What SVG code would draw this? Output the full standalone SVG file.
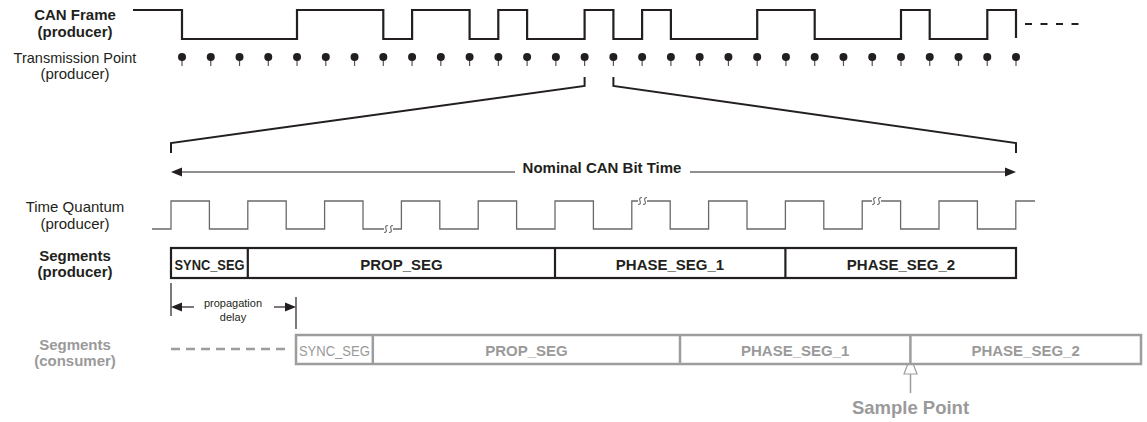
<svg xmlns="http://www.w3.org/2000/svg" xmlns:xlink="http://www.w3.org/1999/xlink" width="1147" height="422" viewBox="0 0 1147 422">
<style>
text{font-family:"Liberation Sans",Arial,sans-serif;text-anchor:middle;}
.b{font-weight:bold;font-size:15px;fill:#231f20;}
.r{font-size:15px;fill:#231f20;}
.gb{font-weight:bold;font-size:15px;fill:#9a9a9a;}
.gr{font-size:15px;fill:#9a9a9a;}
.wave{fill:none;stroke:#231f20;stroke-width:2.2;}
.tq{fill:none;stroke:#6a6a6a;stroke-width:1.3;}
.thin{fill:none;stroke:#231f20;stroke-width:1.2;}
.dark{fill:none;stroke:#231f20;stroke-width:2;}
.gbox{fill:#fff;stroke:#9d9d9d;stroke-width:2.5;}
.pbox{fill:#fff;stroke:#231f20;stroke-width:2.2;}
.head{fill:#231f20;}
</style>
<defs>
<g id="tp"><line x1="0" y1="0" x2="0" y2="9" stroke="#555" stroke-width="1.2"/><circle cx="0" cy="0" r="4" fill="#231f20"/></g>
<path id="sq" d="M0,7 Q3.4,7 2,3.5 Q0.6,0 4,0" fill="none" stroke="#6a6a6a" stroke-width="1.1"/>
</defs>

<g id="labels">
<text class="b" x="75" y="20">CAN Frame</text>
<text class="b" x="75" y="37">(producer)</text>
<text class="r" x="75" y="63" style="font-size:14.5px">Transmission Point</text>
<text class="r" x="75" y="79">(producer)</text>
<text class="r" x="75" y="212">Time Quantum</text>
<text class="r" x="75" y="229">(producer)</text>
<text class="b" x="75" y="261">Segments</text>
<text class="b" x="75" y="277">(producer)</text>
<text class="gb" x="75" y="350">Segments</text>
<text class="gb" x="75" y="366">(consumer)</text>
</g>

<g id="can-frame">
<path class="wave" d="M133,10 H182 V39 H297 V10 H383.3 V39 H412.1 V10 H469.6 V39 H498.3 V10 H527.1 V39 H584.6 V10 H613.4 V39 H642.1 V10 H670.9 V39 H757.2 V10 H814.7 V39 H901 V10 H929.7 V39 H987.3 V10 H1016 V38"/>
<line x1="1025" y1="24" x2="1079" y2="24" stroke="#231f20" stroke-width="2" stroke-dasharray="7,8.5"/>
</g>

<g id="transmission-points">
<use xlink:href="#tp" x="182" y="57"/><use xlink:href="#tp" x="210.76" y="57"/><use xlink:href="#tp" x="239.52" y="57"/><use xlink:href="#tp" x="268.28" y="57"/><use xlink:href="#tp" x="297.04" y="57"/>
<use xlink:href="#tp" x="325.8" y="57"/><use xlink:href="#tp" x="354.55" y="57"/><use xlink:href="#tp" x="383.31" y="57"/><use xlink:href="#tp" x="412.07" y="57"/><use xlink:href="#tp" x="440.83" y="57"/>
<use xlink:href="#tp" x="469.59" y="57"/><use xlink:href="#tp" x="498.35" y="57"/><use xlink:href="#tp" x="527.11" y="57"/><use xlink:href="#tp" x="555.87" y="57"/><use xlink:href="#tp" x="584.63" y="57"/>
<use xlink:href="#tp" x="613.39" y="57"/><use xlink:href="#tp" x="642.14" y="57"/><use xlink:href="#tp" x="670.9" y="57"/><use xlink:href="#tp" x="699.66" y="57"/><use xlink:href="#tp" x="728.42" y="57"/>
<use xlink:href="#tp" x="757.18" y="57"/><use xlink:href="#tp" x="785.94" y="57"/><use xlink:href="#tp" x="814.7" y="57"/><use xlink:href="#tp" x="843.46" y="57"/><use xlink:href="#tp" x="872.22" y="57"/>
<use xlink:href="#tp" x="900.97" y="57"/><use xlink:href="#tp" x="929.73" y="57"/><use xlink:href="#tp" x="958.49" y="57"/><use xlink:href="#tp" x="987.25" y="57"/><use xlink:href="#tp" x="1016" y="57"/>
</g>

<g id="connectors">
<path class="dark" d="M584.6,77 V86 L171,143 V153"/>
<path class="dark" d="M613.4,77 V86 L1016,143 V153"/>
<line class="thin" x1="182" y1="172" x2="515" y2="172"/>
<line class="thin" x1="690" y1="172" x2="1005" y2="172"/>
<polygon class="head" points="171,172 182,167.5 182,176.5"/>
<polygon class="head" points="1016,172 1005,167.5 1005,176.5"/>
<line class="thin" x1="171" y1="283" x2="171" y2="316"/>
<line class="thin" x1="296" y1="297" x2="296" y2="329"/>
<line class="thin" x1="182" y1="307" x2="194" y2="307"/>
<line class="thin" x1="274" y1="307" x2="285" y2="307"/>
<polygon class="head" points="171,307 182,302.5 182,311.5"/>
<polygon class="head" points="296,307 285,302.5 285,311.5"/>
<line x1="910.5" y1="374" x2="910.5" y2="393" stroke="#9d9d9d" stroke-width="1.5"/>
<polygon points="910.5,357 904,374 917,374" fill="#fff" stroke="#9d9d9d" stroke-width="1.2"/>
</g>

<g id="nominal-label">
<text class="b" x="602" y="173">Nominal CAN Bit Time</text>
</g>

<g id="time-quantum">
<path class="tq" d="M152,229 H171 V201 H209.4 V229 H247.8 V201 H286.2 V229 H324.6 V201 H363 V229 H384"/>
<use xlink:href="#sq" x="384" y="225.5"/><use xlink:href="#sq" x="389" y="225.5"/>
<path class="tq" d="M393,229 H401.4 V201 H439.8 V229 H478.2 V201 H516.6 V229 H555 V201 H593.4 V229 H631.8 V201 H638"/>
<use xlink:href="#sq" x="638" y="197.5"/><use xlink:href="#sq" x="643" y="197.5"/>
<path class="tq" d="M647,201 H670.2 V229 H708.6 V201 H747 V229 H785.4 V201 H823.8 V229 H862.2 V201 H872"/>
<use xlink:href="#sq" x="872" y="197.5"/><use xlink:href="#sq" x="877" y="197.5"/>
<path class="tq" d="M881,201 H900.6 V229 H939 V201 H977.4 V229 H1015.8 V201 H1035"/>
</g>

<g id="segments-producer">
<rect class="pbox" x="171" y="248" width="845" height="30"/>
<line class="dark" x1="247.8" y1="248" x2="247.8" y2="278" style="stroke-width:2.2"/>
<line class="dark" x1="555" y1="248" x2="555" y2="278" style="stroke-width:2.2"/>
<line class="dark" x1="785.4" y1="248" x2="785.4" y2="278" style="stroke-width:2.2"/>
<text class="b" x="209.5" y="270" textLength="70" lengthAdjust="spacingAndGlyphs">SYNC_SEG</text>
<text class="b" x="401.5" y="270">PROP_SEG</text>
<text class="b" x="670" y="270">PHASE_SEG_1</text>
<text class="b" x="901" y="270">PHASE_SEG_2</text>
</g>

<g id="propagation-delay">
<text class="r" x="233" y="307" style="font-size:11px">propagation</text>
<text class="r" x="233" y="321" style="font-size:11px">delay</text>
</g>

<g id="segments-consumer">
<line x1="171" y1="349" x2="286" y2="349" stroke="#9d9d9d" stroke-width="2.6" stroke-dasharray="9,6"/>
<rect class="gbox" x="296" y="335" width="845" height="29"/>
<line x1="372.8" y1="335" x2="372.8" y2="364" stroke="#9d9d9d" stroke-width="2.5"/>
<line x1="680" y1="335" x2="680" y2="364" stroke="#9d9d9d" stroke-width="2.5"/>
<line x1="910.4" y1="335" x2="910.4" y2="364" stroke="#9d9d9d" stroke-width="2.5"/>
<text class="gr" x="334.4" y="356" textLength="71" lengthAdjust="spacingAndGlyphs">SYNC_SEG</text>
<text class="gb" x="526.4" y="356">PROP_SEG</text>
<text class="gb" x="795.2" y="356">PHASE_SEG_1</text>
<text class="gb" x="1025.6" y="356">PHASE_SEG_2</text>
</g>

<g id="sample-point">
<text class="gb" x="910.5" y="414" style="font-size:18.5px">Sample Point</text>
</g>
</svg>
